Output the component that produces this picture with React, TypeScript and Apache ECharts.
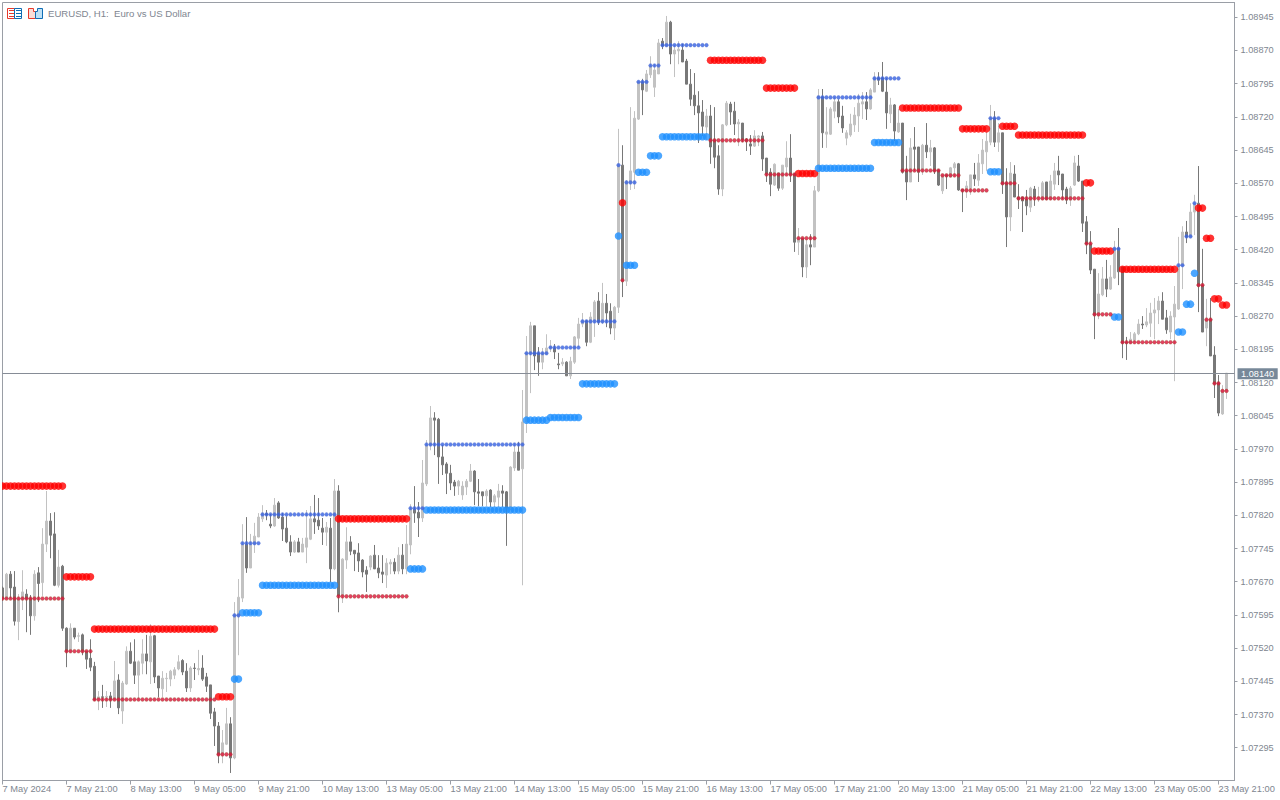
import React, { useEffect, useRef } from "react";
import * as echarts from "echarts";

// All prices are in points above 1.07000 (650 = 1.07650).
const candles: number[][] = [
[656,632,627,659],[632,687,632,690],[687,656,632,694],[658,581,571,694],[580,632,538,642],[632,647,606,696],[642,632,556,653],[632,593,550,640],
[593,687,582,696],[690,666,624,703],[668,755,638,791],[755,807,737,875],[807,775,723,825],[778,662,660,827],[662,703,657,742],[705,565,559,708],
[565,513,477,567],[513,565,510,576],[565,545,540,565],[547,548,534,555],[550,513,504,553],[513,495,473,513],[497,477,468,540],[479,403,401,489],
[404,410,380,423],[410,409,385,437],[410,411,387,423],[412,404,385,421],[404,446,403,491],[448,385,371,461],[378,441,349,446],[439,513,437,524],
[513,486,484,533],[489,459,439,540],[459,489,404,492],[486,507,461,540],[507,491,461,550],[489,547,439,574],[548,455,441,550],[457,430,409,457],
[428,452,409,468],[451,452,421,464],[450,468,434,471],[459,471,450,477],[473,489,470,504],[492,466,459,495],[468,430,421,486],[430,475,421,479],
[475,474,448,486],[471,474,459,516],[475,450,446,504],[455,434,421,464],[437,373,360,437],[376,344,299,385],[344,279,260,353],[279,306,260,335],
[303,349,301,385],[349,272,238,364],[272,595,269,624],[592,635,504,676],[633,755,624,800],[755,701,690,816],[701,755,701,778],[755,773,735,803],
[771,816,771,825],[812,825,805,843],[824,821,809,832],[800,796,791,823],[796,843,794,859],[848,814,812,852],[816,789,762,825],[791,760,757,818],
[760,737,728,775],[737,760,735,764],[760,737,737,769],[737,755,737,769],[748,769,712,832],[766,812,764,841],[812,805,778,866],[809,796,787,859],
[791,782,753,814],[782,793,751,805],[791,699,669,814],[699,875,696,902],[875,638,601,888],[638,721,622,723],[719,760,699,793],[760,739,730,773],
[741,733,694,741],[735,717,692,757],[719,692,680,721],[696,687,647,705],[703,728,696,730],[730,699,699,753],[701,690,678,730],[692,687,667,730],
[685,712,656,723],[710,714,687,721],[714,694,687,723],[694,730,687,748],[730,699,687,755],[699,755,687,798],[753,834,732,845],[834,825,803,886],
[827,814,771,850],[814,893,805,945],[891,979,886,990],[979,1040,967,1067],[1040,1035,956,1053],[1037,952,891,1040],[952,934,911,979],[936,915,868,940],
[915,893,877,934],[895,886,864,900],[886,897,866,900],[866,886,855,897],[884,897,866,902],[897,920,895,936],[920,873,843,922],[873,870,841,902],
[873,864,841,873],[864,875,841,879],[877,850,839,879],[850,864,839,868],[861,875,839,891],[875,870,839,888],[873,836,751,875],[836,929,832,931],
[927,963,920,983],[963,922,922,986],[925,1031,662,1103],[1031,1187,1006,1225],[1186,1248,1096,1257],[1248,1180,1148,1248],[1186,1166,1135,1200],[1166,1186,1150,1198],
[1184,1198,1184,1229],[1198,1202,1189,1216],[1198,1189,1173,1207],[1162,1160,1150,1187],[1162,1166,1157,1175],[1166,1135,1135,1168],[1135,1168,1128,1178],[1166,1223,1162,1225],
[1220,1252,1200,1266],[1252,1259,1245,1277],[1259,1211,1202,1261],[1211,1268,1209,1279],[1259,1302,1223,1306],[1304,1257,1250,1324],[1257,1299,1252,1345],[1299,1277,1245,1320],
[1281,1243,1229,1299],[1243,1290,1216,1293],[1290,1611,1277,1693],[1611,1349,1313,1656],[1349,1573,1338,1577],[1572,1598,1555,1742],[1595,1717,1557,1733],[1715,1799,1713,1800],
[1799,1781,1724,1806],[1778,1817,1776,1826],[1815,1835,1808,1857],[1787,1826,1765,1839],[1817,1887,1817,1896],[1891,1880,1873,1898],[1880,1934,1880,1948],[1934,1862,1839,1937],
[1862,1871,1810,1882],[1869,1873,1839,1891],[1871,1844,1844,1885],[1846,1794,1794,1851],[1794,1760,1745,1828],[1769,1745,1724,1819],[1745,1729,1661,1778],[1731,1699,1677,1758],
[1697,1722,1668,1738],[1722,1652,1614,1747],[1668,1629,1604,1742],[1632,1557,1544,1656],[1557,1702,1541,1704],[1702,1751,1699,1756],[1749,1731,1702,1754],[1733,1704,1679,1754],
[1704,1708,1654,1715],[1706,1668,1663,1706],[1670,1665,1643,1672],[1659,1654,1634,1679],[1654,1677,1652,1690],[1674,1677,1654,1679],[1677,1625,1598,1686],[1627,1591,1573,1627],
[1595,1568,1541,1604],[1566,1613,1564,1615],[1593,1559,1553,1593],[1559,1611,1555,1611],[1607,1627,1589,1665],[1627,1589,1573,1681],[1591,1437,1415,1593],[1437,1446,1408,1469],
[1446,1381,1358,1446],[1381,1431,1356,1442],[1431,1426,1385,1455],[1426,1553,1426,1564],[1553,1767,1550,1783],[1765,1684,1650,1783],[1681,1686,1650,1742],[1681,1738,1679,1742],
[1733,1754,1717,1765],[1754,1720,1706,1760],[1722,1695,1684,1745],[1672,1684,1656,1690],[1679,1704,1675,1727],[1702,1724,1686,1742],[1722,1751,1686,1772],[1749,1754,1715,1776],
[1754,1738,1713,1776],[1738,1781,1736,1785],[1776,1808,1776,1821],[1808,1803,1792,1821],[1808,1778,1776,1844],[1776,1729,1693,1808],[1727,1747,1706,1763],[1747,1688,1665,1749],
[1686,1706,1684,1738],[1706,1595,1592,1706],[1598,1573,1532,1632],[1573,1650,1573,1672],[1652,1647,1598,1697],[1652,1595,1573,1652],[1600,1656,1589,1659],[1656,1641,1627,1706],
[1641,1650,1609,1668],[1650,1598,1591,1652],[1600,1566,1564,1602],[1553,1589,1546,1589],[1589,1586,1557,1590],[1584,1605,1584,1607],[1605,1614,1586,1618],[1614,1555,1553,1616],
[1556,1553,1505,1556],[1553,1564,1537,1575],[1559,1589,1544,1589],[1589,1580,1564,1616],[1577,1616,1564,1636],[1614,1645,1591,1670],[1641,1665,1598,1686],[1663,1717,1656,1747],
[1717,1663,1652,1733],[1663,1684,1641,1706],[1684,1568,1546,1684],[1571,1494,1426,1604],[1494,1593,1462,1618],[1591,1539,1539,1611],[1539,1534,1512,1568],[1539,1530,1460,1539],
[1534,1519,1498,1555],[1516,1559,1505,1562],[1557,1539,1519,1564],[1537,1539,1528,1562],[1534,1571,1532,1575],[1573,1534,1532,1573],[1534,1575,1532,1589],[1568,1598,1555,1616],
[1598,1589,1566,1632],[1591,1555,1534,1591],[1557,1532,1523,1562],[1532,1559,1519,1564],[1566,1616,1564,1632],[1609,1575,1573,1634],[1575,1480,1460,1575],[1483,1433,1410,1496],
[1433,1374,1365,1462],[1376,1272,1218,1376],[1272,1320,1263,1367],[1318,1354,1315,1381],[1354,1331,1313,1397],[1331,1358,1329,1385],[1356,1424,1354,1440],[1424,1370,1340,1469],
[1381,1209,1175,1381],[1211,1209,1171,1223],[1209,1218,1207,1234],[1216,1230,1211,1234],[1230,1252,1227,1263],[1252,1250,1241,1270],[1250,1257,1245,1288],[1254,1277,1223,1300],
[1277,1284,1218,1311],[1284,1304,1252,1315],[1304,1263,1263,1324],[1266,1239,1230,1284],[1234,1270,1218,1281],[1268,1297,1123,1338],[1286,1383,1284,1449],[1383,1460,1331,1473],
[1460,1449,1435,1485],[1449,1505,1449,1525],[1505,1525,1453,1544],[1525,1338,1279,1609],[1340,1234,1234,1422],[1243,1263,1202,1309],[1263,1180,1180,1311],[1182,1117,1085,1202],
[1119,1051,1044,1137],[1049,1103,1047,1114],[1101,1141,1083,1141],
];

// Indicator levels: [first bar, last bar, level in points]
const resistanceOuter: number[][] = [
[0,15,886],[16,22,681],[23,53,563],[54,57,410],[84,101,812],[155,155,1526],[177,190,1848],[191,198,1785],[199,203,1592],
[225,239,1740],[240,246,1693],[250,253,1699],[254,270,1679],[271,272,1571],[273,277,1417],[280,293,1376],[299,300,1514],
[301,302,1446],[303,304,1309],[305,306,1295],
];
const supportOuter: number[][] = [
[58,59,450],[60,64,600],[65,83,662],[102,105,699],[106,130,832],[131,136,1035],[137,144,1041],[145,153,1117],[154,154,1451],
[156,158,1385],[159,161,1595],[162,164,1632],[165,176,1675],[204,217,1604],[218,224,1662],[247,249,1596],[278,279,1268],
[294,295,1234],[296,297,1297],[298,298,1367],
];
const supportInner: number[][] = [
[58,59,594],[60,64,757],[65,83,822],[102,105,836],[106,130,980],[131,136,1186],[137,144,1199],[145,153,1258],[154,154,1611],
[156,158,1572],[159,161,1799],[162,164,1836],[165,176,1882],[204,217,1764],[218,224,1807],[247,249,1717],[278,279,1422],
[294,295,1385],[296,297,1450],[298,298,1525],
];
const resistanceInner: number[][] = [
[0,15,632],[16,22,513],[23,53,404],[54,57,280],[84,101,637],[155,155,1351],[177,190,1667],[191,198,1590],[199,203,1446],
[225,234,1599],[235,239,1588],[240,246,1554],[250,253,1570],[254,270,1536],[271,272,1434],[273,277,1274],[280,293,1211],
[299,300,1340],[301,302,1262],[303,304,1118],[305,306,1101],
];

const timeLabels = [
"7 May 2024","7 May 21:00","8 May 13:00","9 May 05:00","9 May 21:00","10 May 13:00","13 May 05:00","13 May 21:00","14 May 13:00","15 May 05:00",
"15 May 21:00","16 May 13:00","17 May 05:00","17 May 21:00","20 May 13:00","21 May 05:00","21 May 21:00","22 May 13:00","23 May 05:00","23 May 21:00",
];
const priceTicks = [
1.07295,1.0737,1.07445,1.0752,1.07595,1.0767,1.07745,1.0782,1.07895,1.0797,1.08045,1.0812,
1.08195,1.0827,1.08345,1.0842,1.08495,1.0857,1.08645,1.0872,1.08795,1.0887,1.08945,
];
const lastPrice = 1.0814;
const LABEL_EVERY = 16;
const SLOT_COUNT = 309;

const toPrice = (pts: number) => +(1.07 + pts / 1e5).toFixed(5);
const dots = (levels: number[][]) =>
  levels.flatMap(([a, b, v]) => {
    const out: number[][] = [];
    for (let k = a; k <= b; k++) out.push([k, toPrice(v)]);
    return out;
  });

const AXIS = "#9a9ea6";
const TEXT = "#808690";
const FONT = "Liberation Sans";

const dotSeries = (levels: number[][], color: string, size: number, fringe?: string) => ({
  type: "scatter",
  data: dots(levels),
  symbol: "circle",
  symbolSize: size,
  itemStyle: fringe ? { color, borderColor: fringe, borderWidth: 0.6 } : { color },
  silent: true,
  clip: true,
  z: size > 5 ? 4 : 5,
});

export default function App() {
  const ref = useRef<HTMLDivElement>(null);
  useEffect(() => {
    document.body.style.margin = "0";
    const chart = echarts.init(ref.current!, null, { renderer: "svg" });
    chart.setOption({
      animation: false,
      backgroundColor: "#ffffff",
      grid: { left: 2.5, top: 2.5, width: 1232, height: 778, show: true, borderColor: AXIS, borderWidth: 1, backgroundColor: "#fff", outerBoundsMode: "none" },
      xAxis: {
        type: "category",
        boundaryGap: false,
        data: Array.from({ length: SLOT_COUNT }, (_, i) => String(i)),
        axisLine: { show: true, lineStyle: { color: AXIS } },
        axisTick: { show: true, length: 4, lineStyle: { color: AXIS }, interval: (i: number) => i % LABEL_EVERY === 0 },
        axisLabel: {
          interval: (i: number) => i % LABEL_EVERY === 0,
          formatter: (_: string, i: number) => timeLabels[i / LABEL_EVERY] ?? "",
          align: "left",
          color: TEXT,
          fontFamily: FONT,
          fontSize: 9.3,
          margin: 4,
          hideOverlap: false,
        },
        splitLine: { show: false },
      },
      yAxis: {
        type: "value",
        position: "right",
        min: 1.07221,
        max: 1.089784,
        scale: true,
        axisLine: { show: true, lineStyle: { color: AXIS } },
        axisTick: { show: true, length: 3, lineStyle: { color: AXIS }, customValues: priceTicks },
        axisLabel: {
          customValues: priceTicks,
          formatter: (v: number) => v.toFixed(5),
          color: TEXT,
          fontFamily: FONT,
          fontSize: 9.2,
          margin: 6,
        },
        splitLine: { show: false },
      },
      series: [
        {
          type: "candlestick",
          data: candles.map((r) => r.map(toPrice)),
          barWidth: 2,
          itemStyle: {
            color: "#c2c2c2",
            borderColor: "#c2c2c2",
            color0: "#787878",
            borderColor0: "#787878",
            borderWidth: 1,
          },
          silent: true,
          z: 2,
          markLine: {
            silent: true,
            symbol: "none",
            animation: false,
            precision: 5,
            lineStyle: { color: "#868c96", width: 1, type: "solid" },
            label: {
              show: true,
              position: "end",
              distance: 3,
              formatter: lastPrice.toFixed(5),
              color: "#ffffff",
              backgroundColor: "#778899",
              fontFamily: FONT,
              fontSize: 9.2,
              padding: [1, 3.5, 1, 3.5],
            },
            data: [{ yAxis: lastPrice }],
          },
        },
        dotSeries(resistanceOuter, "#ff0000", 7.5),
        dotSeries(supportOuter, "#1e90ff", 7.5),
        dotSeries(supportInner, "#3560e4", 3.6, "#5a78d0"),
        dotSeries(resistanceInner, "#e0103c", 3.6, "#a04a30"),
      ],
      graphic: [
        { type: "rect", shape: { x: 0, y: 0, width: 2, height: 800 }, style: { fill: "#ffffff" }, z: 20 },
        { type: "rect", shape: { x: 7.5, y: 8.5, width: 7, height: 10 }, style: { fill: "#fff", stroke: "#e8392b" }, z: 20 },
        { type: "rect", shape: { x: 14.5, y: 8.5, width: 7, height: 10 }, style: { fill: "#fff", stroke: "#0f6db5" }, z: 20 },
        ...[10.5, 13.5, 16.5].flatMap((y) => [
          { type: "line", shape: { x1: 9, y1: y, x2: 14, y2: y }, style: { stroke: "#e8392b" }, z: 21 },
          { type: "line", shape: { x1: 16, y1: y, x2: 21, y2: y }, style: { stroke: "#0f6db5" }, z: 21 },
        ]),
        { type: "polygon", shape: { points: [[28.5, 8.5], [33.5, 8.5], [33.5, 11.5], [35.5, 11.5], [35.5, 18.5], [28.5, 18.5]] }, style: { fill: "#fbdcd6", stroke: "#e8392b" }, z: 20 },
        { type: "polygon", shape: { points: [[37.5, 8.5], [42.5, 8.5], [42.5, 18.5], [35.5, 18.5], [35.5, 11.5], [37.5, 11.5]] }, style: { fill: "#bfe0f5", stroke: "#0f6db5" }, z: 20 },
        {
          type: "text",
          x: 48,
          y: 8,
          style: { text: "EURUSD, H1:  Euro vs US Dollar", fill: TEXT, font: `9.6px '${FONT}'` },
          z: 20,
        },
      ],
    });
    return () => chart.dispose();
  }, []);
  return <div ref={ref} style={{ width: 1280, height: 800, position: "fixed", left: 0, top: 0 }} />;
}
